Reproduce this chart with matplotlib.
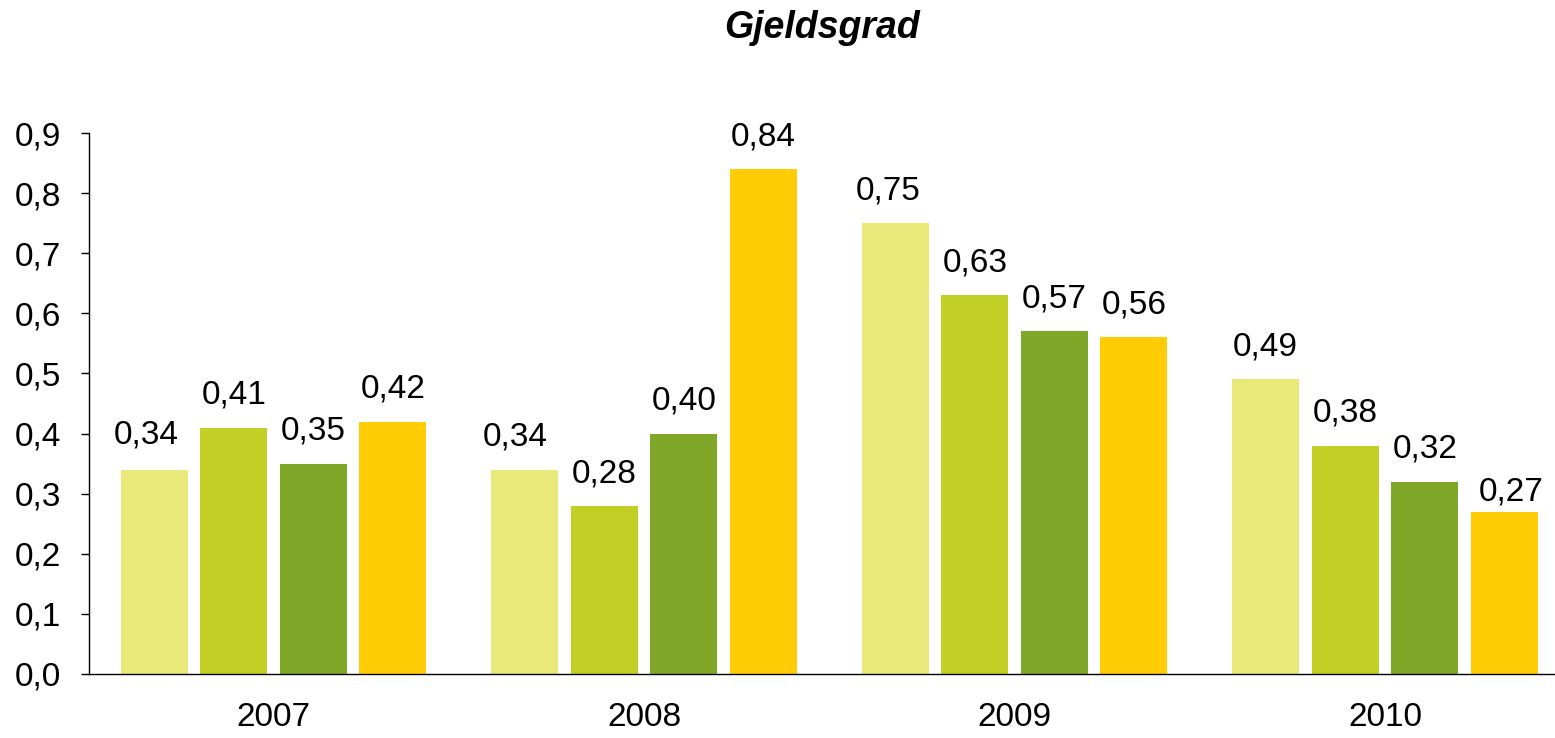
import matplotlib
matplotlib.use("Agg")
import matplotlib.pyplot as plt
import numpy as np

plt.rcParams['font.family'] = ['Liberation Sans', 'DejaVu Sans']

years = ['2007', '2008', '2009', '2010']
series1 = [0.34, 0.34, 0.75, 0.49]
series2 = [0.41, 0.28, 0.63, 0.38]
series3 = [0.35, 0.40, 0.57, 0.32]
series4 = [0.42, 0.84, 0.56, 0.27]
colors = ['#E9E97A', '#C2CF25', '#7FA828', '#FFCC05']
yticks = [0.0, 0.1, 0.2, 0.3, 0.4, 0.5, 0.6, 0.7, 0.8, 0.9]

# label offset tweaks (series index, group index) -> (dx, dy) in points
label_tweaks = {(0, 0): (-6, 2), (0, 1): (-7, 0), (0, 2): (-5, 0), (3, 3): (5, -9)}

W, H = 1555, 738
fig = plt.figure(figsize=(W / 100, H / 100), dpi=100)
ax = fig.add_axes([88.5 / W, (H - 674) / H, (W - 88.5) / W, (674 - 133) / H])

x = np.arange(len(years))
step = 0.2146
width = 0.181
all_series = [series1, series2, series3, series4]
for i, (s, c) in enumerate(zip(all_series, colors)):
    pos = x + (i - 1.5) * step
    bars = ax.bar(pos, s, width=width, color=c, zorder=2)
    for j, (b, v) in enumerate(zip(bars, s)):
        dx, dy = label_tweaks.get((i, j), (0, 0))
        ax.annotate(f"{v:.2f}".replace('.', ','),
                    (b.get_x() + b.get_width() / 2, b.get_height()),
                    xytext=(dx, 12 + dy), textcoords='offset points',
                    ha='center', va='bottom', fontsize=24, color='black')

ax.set_xlim(-0.5, 3.459)
ax.set_ylim(0, 0.9)
ax.set_yticks(yticks)
ax.set_yticklabels([f"{t:.1f}".replace('.', ',') for t in yticks], fontsize=24)
ax.set_xticks(x)
ax.set_xticklabels(years, fontsize=24)
ax.tick_params(axis='x', length=0, pad=20)
ax.tick_params(axis='y', length=6, width=1, direction='out', pad=14)
for sp in ['top', 'right']:
    ax.spines[sp].set_visible(False)
ax.spines['left'].set_linewidth(1)
ax.spines['bottom'].set_linewidth(1)

fig.text((88.5 + W) / 2 / W, 1 - 28 / H, 'Gjeldsgrad', ha='center', va='center',
         fontsize=27, fontweight='bold', fontstyle='italic')

fig.savefig('out.png', dpi=100)
